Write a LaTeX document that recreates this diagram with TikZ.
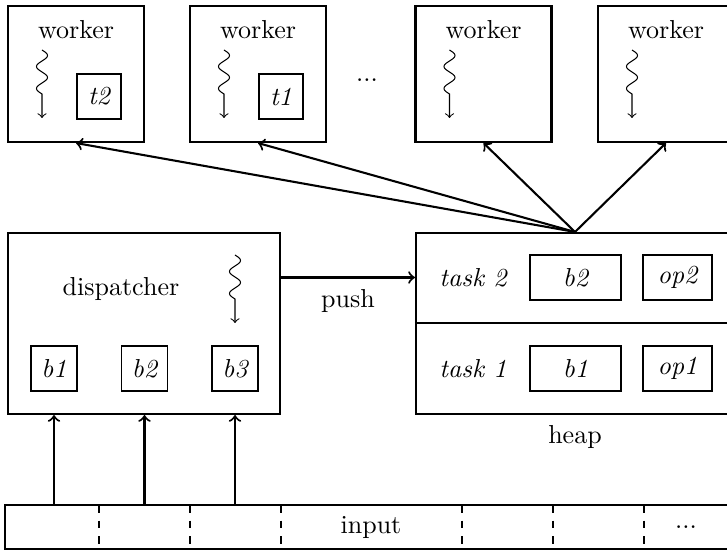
\documentclass[tikz,border=0pt]{standalone}
\usetikzlibrary{decorations.pathmorphing}
\newcommand\pxu[1]{#1*0.3846pt}
\begin{document}
\begin{tikzpicture}[x=0.3846pt,y=-0.3846pt,
  bigbox/.style={draw, thick, inner sep=0pt},
  smallbox/.style={draw, inner sep=0pt, minimum height={\pxu{45}}, font=\itshape},
  conn/.style={->, thick}]
\newcommand\threadat[2]{%
  \draw[->] plot[domain=0:44, samples=60, smooth, variable=\t] ({#1+5.5*sin(\t*360/22)}, {#2+\t}) -- (#1,#2+68);}
\useasboundingbox (0,0) rectangle (727,551);
\clip (0,0) rectangle (727,551);
% workers
\foreach \n/\cx in {1/76, 2/258, 3/483.5, 4/666} {
  \node[bigbox, minimum width={\pxu{136}}, minimum height={\pxu{136}}] (w\n) at (\cx,74) {};
  \node (wl\n) at (\cx,30) {worker};
  \pgfmathsetmacro\tx{\cx-34}
  \threadat{\tx}{50}
}
\node[smallbox, minimum width={\pxu{44}}] (t2) at (99,96.5) {t2};
\node[smallbox, minimum width={\pxu{44}}] (t1) at (281,96.5) {t1};
\node (dots) at (367,80) {...};
% dispatcher
\node[bigbox, minimum width={\pxu{272}}, minimum height={\pxu{181}}] (disp) at (144,323.5) {};
\node (displ) at (121,289) {dispatcher};
\threadat{235}{255}
\node[smallbox, minimum width={\pxu{46}}] (db1) at (54,368.5) {b1};
\node[smallbox, minimum width={\pxu{46}}] (db2) at (144.5,368.5) {b2};
\node[smallbox, minimum width={\pxu{46}}] (db3) at (235,368.5) {b3};
% heap
\node[bigbox, minimum width={\pxu{318}}, minimum height={\pxu{181}}] (heap) at (575,323.5) {};
\coordinate (mid) at (416,323);
\draw[thick] (heap.west |- mid) -- (heap.east |- mid);
\node[font=\itshape] (task2) at (473,278) {task 2};
\node[smallbox, minimum width={\pxu{91}}] (hb2) at (575.5,277.5) {b2};
\node[smallbox, minimum width={\pxu{69}}] (op2) at (677.5,277.5) {op2};
\node[font=\itshape] (task1) at (473,368.5) {task 1};
\node[smallbox, minimum width={\pxu{91}}] (hb1) at (575.5,368.5) {b1};
\node[smallbox, minimum width={\pxu{69}}] (op1) at (677.5,368.5) {op1};
\node (heapl) at (575,437) {heap};
% push
\draw[conn] (disp.east |- hb2) -- (heap.west |- hb2) node[midway, below, yshift=-1pt] (pushl) {push};
% heap to workers
\foreach \n in {1,2,3,4} \draw[conn] (heap.north) -- (w\n.south);
% input
\node[bigbox, minimum width={\pxu{731}}, minimum height={\pxu{44}}] (input) at (370.5,527) {};
\node (inl) at (371,527) {input};
\node (indots) at (686,527) {...};
\foreach \x in {99,190,281,462,553,644} \draw[dashed] (\x,505) -- (\x,549);
\foreach \b in {db1,db2,db3} \draw[conn] (input.north -| \b) -- (disp.south -| \b);
\end{tikzpicture}
\end{document}
